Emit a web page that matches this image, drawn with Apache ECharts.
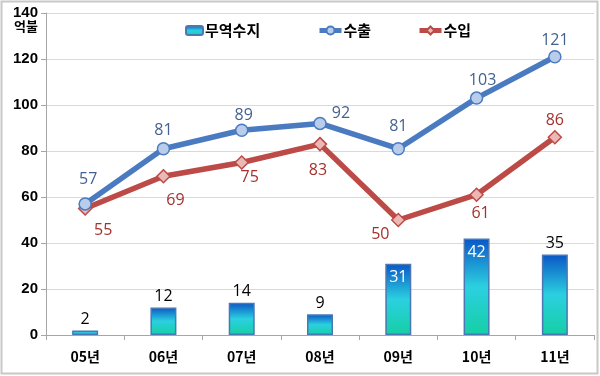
<!DOCTYPE html>
<html><head><meta charset="utf-8">
<script src="https://cdn.jsdelivr.net/npm/echarts@6/dist/echarts.min.js"></script>
<style>html,body{margin:0;padding:0;background:#fff}#c{width:600px;height:376px}</style>
</head><body><div id="c"></div>
<script>
const categories = ['05년','06년','07년','08년','09년','10년','11년'];
const balance = [2, 12, 14, 9, 31, 42, 35];
const exports = [57, 81, 89, 92, 81, 103, 121];
const imports = [55, 69, 75, 83, 50, 61, 86];
const yTicks = [0, 20, 40, 60, 80, 100, 120, 140];
const seriesNames = ['무역수지', '수출', '수입'];
const unitLabel = '억불';

const expOffsets = [[3,-24],[0,-18],[2,-15],[21,-10],[0,-22],[6,-18],[0,-16]];
const impOffsets = [[18,22],[12,24],[8,15],[-2,26],[-18,14],[4,19],[0,-17]];
const balInside = [false,false,false,false,true,true,false];
const numFont = '"Open Sans", "Noto Sans", sans-serif';
const krFont = '"Noto Sans CJK KR", sans-serif';

const chart = echarts.init(document.getElementById('c'), null, {renderer:'canvas'});
const barGrad = new echarts.graphic.LinearGradient(0,0,0,1,[
  {offset:0,color:'#0a56c6'},{offset:0.5,color:'#2bd0e0'},{offset:1,color:'#15cfa4'}]);
const legText = {fontFamily:krFont,fontWeight:'bold',fontSize:15,color:'#000',padding:[0,0,0,-3]};

chart.setOption({
  animation:false,
  backgroundColor:'#fff',
  grid:{left:46,right:6,top:13,bottom:41},
  graphic:[
    {type:'rect',shape:{x:1.5,y:1.5,width:596,height:372},style:{fill:'none',stroke:'#c8c8c8',lineWidth:2}},
    {type:'text',left:14,top:20,style:{text:unitLabel,font:'bold 13px '+krFont,fill:'#000'}}
  ],
  legend:[
    {data:[seriesNames[0]],left:180,top:18,itemWidth:17,itemHeight:9,textStyle:legText},
    {data:[seriesNames[1]],left:312,top:18,itemWidth:22,itemHeight:10,lineStyle:{width:5},textStyle:legText},
    {data:[seriesNames[2]],left:412,top:18,itemWidth:22,itemHeight:10,lineStyle:{width:5},textStyle:legText}
  ],
  xAxis:{type:'category',data:categories,
    axisLine:{lineStyle:{color:'#a6a6a6',width:1}},
    axisTick:{show:true,length:5,lineStyle:{color:'#a6a6a6'}},
    axisLabel:{margin:15,fontFamily:krFont,fontWeight:'bold',fontSize:14,color:'#000'}},
  yAxis:{type:'value',min:yTicks[0],max:yTicks[yTicks.length-1],interval:20,
    axisLine:{show:true,lineStyle:{color:'#a6a6a6'}},
    axisTick:{show:true,length:5,lineStyle:{color:'#a6a6a6'}},
    splitLine:{lineStyle:{color:'#d9d9d9'}},
    axisLabel:{margin:8,fontFamily:'"Liberation Sans", Arial, sans-serif',fontWeight:'bold',fontSize:15,color:'#000'}},
  series:[
    {name:seriesNames[0],type:'bar',barWidth:26,z:1,
      itemStyle:{color:barGrad,borderColor:'#4a78b4',borderWidth:1.5},
      data:balance.map((v,i)=>({value:v,label:balInside[i]?
        {show:true,position:'insideTop',distance:6,color:'#fff',fontSize:16,fontFamily:numFont}:
        {show:true,position:'top',distance:3,color:'#000',fontSize:16,fontFamily:numFont}}))},
    {name:seriesNames[1],type:'line',z:3,symbol:'circle',symbolSize:12,
      lineStyle:{color:'#4a7bc0',width:5.5},
      itemStyle:{color:'#b9cdea',borderColor:'#4a7bc0',borderWidth:1.5},
      data:exports.map((v,i)=>({value:v,label:{show:true,position:'inside',offset:expOffsets[i],color:'#44618f',fontSize:16,fontFamily:numFont}}))},
    {name:seriesNames[2],type:'line',z:2,symbol:'diamond',symbolSize:13,
      lineStyle:{color:'#bc4a46',width:5.5},
      itemStyle:{color:'#ebb8b6',borderColor:'#bc4a46',borderWidth:1.5},
      data:imports.map((v,i)=>({value:v,label:{show:true,position:'inside',offset:impOffsets[i],color:'#a4312d',fontSize:16,fontFamily:numFont}}))}
  ]
});
</script></body></html>
